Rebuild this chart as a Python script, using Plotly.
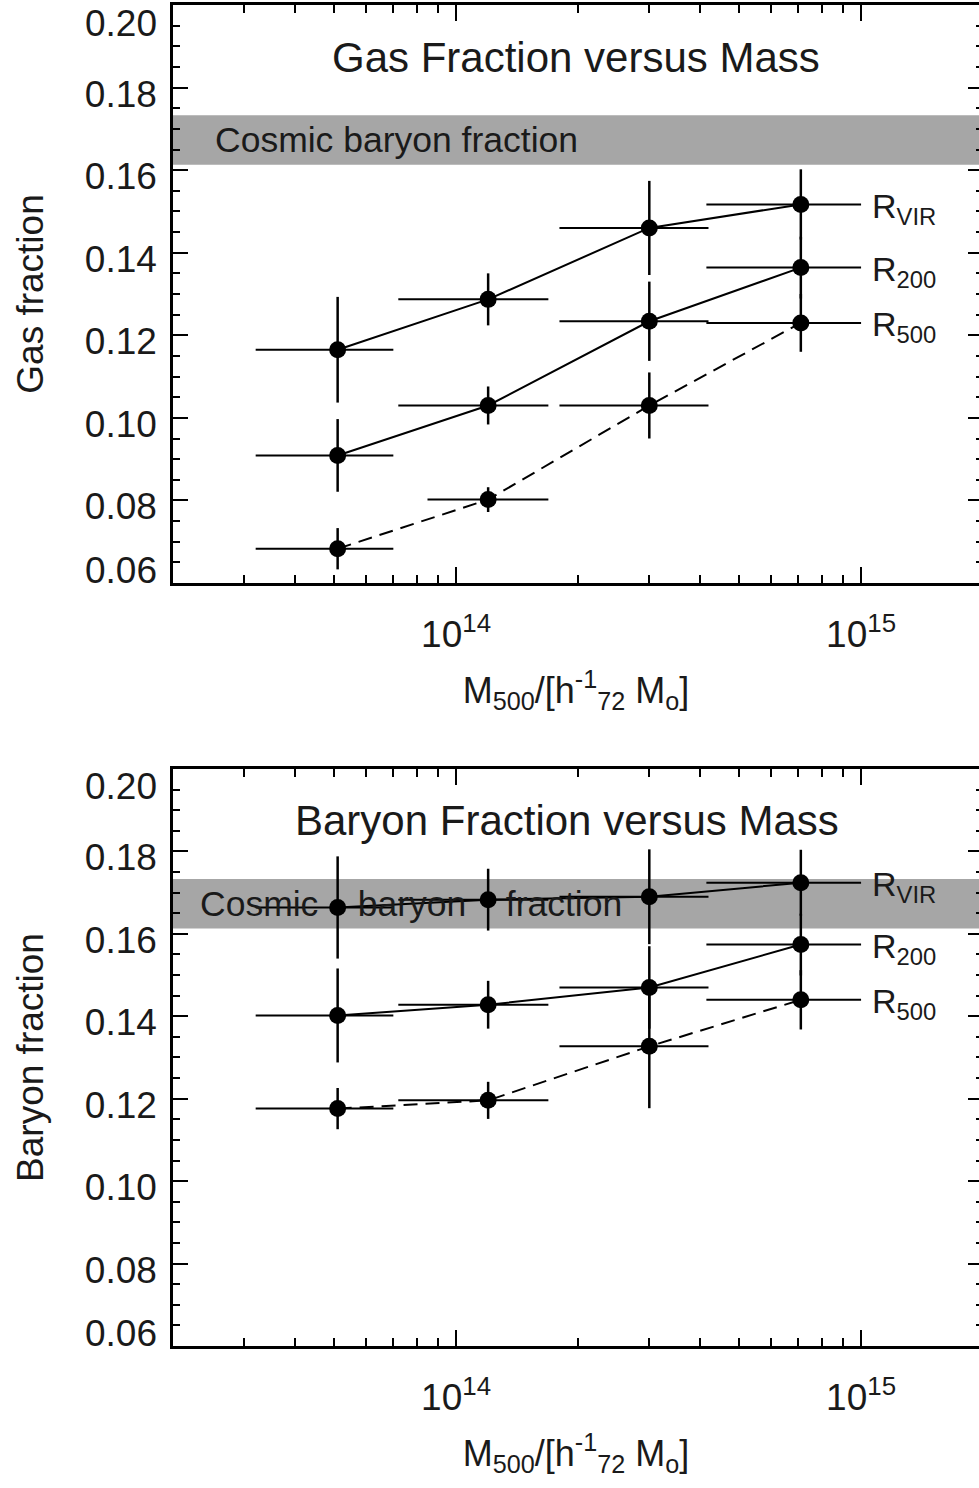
import numpy as np
import plotly.graph_objects as go

# ---------------- data ----------------
mass = [5.1e13, 1.2e14, 3.0e14, 7.1e14]
mass_lo = [3.2e13, 7.2e13, 1.8e14, 4.15e14]
mass_hi = [7.0e13, 1.69e14, 4.2e14, 1.0e15]
mass_lo_r500_gas = [3.2e13, 8.5e13, 1.8e14, 4.15e14]

radii = ["R<sub>VIR</sub>", "R<sub>200</sub>", "R<sub>500</sub>"]

gas_vir = [0.1165, 0.1287, 0.1460, 0.1517]
gas_vir_err = [0.0128, 0.0063, 0.0114, 0.0085]
gas_200 = [0.0909, 0.1030, 0.1234, 0.1364]
gas_200_err = [0.0088, 0.0046, 0.0096, 0.0075]
gas_500 = [0.0683, 0.0802, 0.1030, 0.1230]
gas_500_err = [0.0050, 0.0030, 0.0080, 0.0070]

bar_vir = [0.1664, 0.1683, 0.1690, 0.1724]
bar_vir_err = [0.0124, 0.0075, 0.0115, 0.0080]
bar_200 = [0.1402, 0.1428, 0.1470, 0.1574]
bar_200_err = [0.0114, 0.0058, 0.0100, 0.0075]
bar_500 = [0.1176, 0.1196, 0.1327, 0.1440]
bar_500_err = [0.0050, 0.0045, 0.0150, 0.0072]

cosmic_fb = [0.1613, 0.1733]

ytick_vals = [0.06, 0.08, 0.10, 0.12, 0.14, 0.16, 0.18, 0.20]
ytick_text = ["0.06", "0.08", "0.10", "0.12", "0.14", "0.16", "0.18", "0.20"]
xtick_vals = [1e14, 1e15]
xtick_text = ["10<sup>14</sup>", "10<sup>15</sup>"]
xminor_vals = [k * 1e13 for k in range(2, 10)] + [k * 1e14 for k in range(2, 10)]

titles = ["Gas Fraction versus Mass", "Baryon Fraction versus Mass"]
ytitles = ["Gas fraction", "Baryon fraction"]
xtitle = "M<sub>500</sub>/[h<sup>-1</sup><sub>72</sub> M<sub>o</sub>]"
band_label = ["Cosmic baryon fraction",
              "Cosmic\u00a0\u00a0\u00a0\u00a0baryon\u00a0\u00a0\u00a0\u00a0fraction"]

FONT = "Liberation Sans, Arial, sans-serif"
TXT = "#1a1a1a"

fig = go.Figure()

panels = [
    dict(x="x", y="y", yr="y3",
         series=[(gas_vir, gas_vir_err, mass_lo, "solid"),
                 (gas_200, gas_200_err, mass_lo, "solid"),
                 (gas_500, gas_500_err, mass_lo_r500_gas, "14px,8px")]),
    dict(x="x2", y="y2", yr="y4",
         series=[(bar_vir, bar_vir_err, mass_lo, "solid"),
                 (bar_200, bar_200_err, mass_lo, "solid"),
                 (bar_500, bar_500_err, mass_lo, "14px,8px")]),
]

for p in panels:
    for vals, err, lo, dash in p["series"]:
        fig.add_trace(go.Scatter(
            x=mass, y=vals, xaxis=p["x"], yaxis=p["y"],
            mode="lines+markers",
            line=dict(color="black", width=2, dash=dash),
            marker=dict(color="black", size=17),
            error_y=dict(type="data", array=err, color="black",
                         thickness=2.5, width=0),
            error_x=dict(type="data", symmetric=False,
                         array=[h - m for h, m in zip(mass_hi, mass)],
                         arrayminus=[m - l for m, l in zip(mass, lo)],
                         color="black", thickness=2, width=0),
            showlegend=False, hoverinfo="skip"))
    # empty trace for right-hand tick axis
    fig.add_trace(go.Scatter(x=[None], y=[None], xaxis=p["x"], yaxis=p["yr"],
                             showlegend=False, hoverinfo="skip"))

xrange = [np.log10(2e13), 15.2912]
doms = [[0.56898, 1.0], [0.0, 0.43028]]

def xax(anchor):
    return dict(type="log", range=xrange, anchor=anchor, domain=[0, 1],
                tickvals=xtick_vals, ticktext=xtick_text,
                ticks="inside", ticklen=16, tickwidth=2, tickcolor="black",
                showline=True, linewidth=2.5, linecolor="black", mirror="ticks",
                minor=dict(tickvals=xminor_vals, ticks="inside", ticklen=8,
                           tickwidth=2, tickcolor="black"),
                showgrid=False, zeroline=False,
                tickfont=dict(family=FONT, size=37, color=TXT),
                ticklabelstandoff=17,
                title=dict(text=xtitle, font=dict(family=FONT, size=36, color=TXT),
                           standoff=24))

def yax(anchor, dom, title):
    return dict(range=[0.06, 0.20], anchor=anchor, domain=dom,
                tickvals=ytick_vals[1:-1], ticktext=ytick_text[1:-1],
                ticks="inside", ticklen=15, tickwidth=2, tickcolor="black",
                showline=True, linewidth=2.5, linecolor="black",
                minor=dict(dtick=0.005, tick0=0.06, ticks="inside", ticklen=7,
                           tickwidth=2, tickcolor="black"),
                showgrid=False, zeroline=False,
                tickfont=dict(family=FONT, size=37, color=TXT),
                ticklabelshift=6, ticklabelstandoff=6,
                title=dict(text=title, font=dict(family=FONT, size=37, color=TXT),
                           standoff=30))

def yright(overlay, anchor, dom):
    return dict(range=[0.06, 0.20], overlaying=overlay, side="right",
                anchor=anchor, domain=dom,
                tickvals=ytick_vals, showticklabels=False,
                ticks="inside", ticklen=11, tickwidth=2, tickcolor="black",
                showline=False,
                minor=dict(dtick=0.005, tick0=0.06, ticks="inside", ticklen=3,
                           tickwidth=2, tickcolor="black"),
                showgrid=False, zeroline=False)

annotations = []
shapes = []
for i, (xa, ya) in enumerate([("x", "y"), ("x2", "y2")]):
    shapes.append(dict(type="rect", xref=f"{xa} domain", yref=ya,
                       x0=0, x1=1, y0=cosmic_fb[0], y1=cosmic_fb[1],
                       fillcolor="#a6a6a6", line=dict(width=0), layer="below"))
    annotations.append(dict(text=titles[i], xref=f"{xa} domain", yref=f"{ya} domain",
                            x=0.5 if i == 0 else 0.489, y=0.91, showarrow=False,
                            xanchor="center", yanchor="middle",
                            font=dict(family=FONT, size=42, color=TXT)))
    annotations.append(dict(text=band_label[i], xref=f"{xa} domain", yref=ya,
                            x=0.0496 if i == 0 else 0.031,
                            y=(cosmic_fb[0] + cosmic_fb[1]) / 2,
                            showarrow=False, xanchor="left", yanchor="middle",
                            font=dict(family=FONT, size=35.5, color=TXT)))
    # extreme tick labels kept inside the frame
    annotations.append(dict(text=ytick_text[-1], xref=f"{xa} domain", yref=ya,
                            x=0, y=ytick_vals[-1], xanchor="right", yanchor="middle",
                            xshift=-14, yshift=-18, showarrow=False,
                            font=dict(family=FONT, size=37, color=TXT)))
    annotations.append(dict(text=ytick_text[0], xref=f"{xa} domain", yref=ya,
                            x=0, y=ytick_vals[0], xanchor="right", yanchor="middle",
                            xshift=-14, yshift=13, showarrow=False,
                            font=dict(family=FONT, size=37, color=TXT)))
    series = panels[i]["series"]
    for (vals, err, lo, dash), name in zip(series, radii):
        annotations.append(dict(text=name, xref=xa, yref=ya,
                                x=np.log10(mass_hi[-1]), y=vals[-1],
                                xanchor="left", yanchor="middle",
                                xshift=9, yshift=-4, showarrow=False,
                                font=dict(family=FONT, size=34, color=TXT)))

fig.update_layout(
    width=979, height=1488,
    margin=dict(l=173, r=0, t=5, b=142),
    paper_bgcolor="white", plot_bgcolor="white",
    xaxis=xax("y"), xaxis2=xax("y2"),
    yaxis=yax("x", doms[0], ytitles[0]),
    yaxis2=yax("x2", doms[1], ytitles[1]),
    yaxis3=yright("y", "x", doms[0]),
    yaxis4=yright("y2", "x2", doms[1]),
    annotations=annotations, shapes=shapes,
    showlegend=False,
)

fig.write_html(
    "out.html",
    config={"displayModeBar": False},
    post_script="document.body.style.margin='0';document.body.style.overflow='hidden';",
)
